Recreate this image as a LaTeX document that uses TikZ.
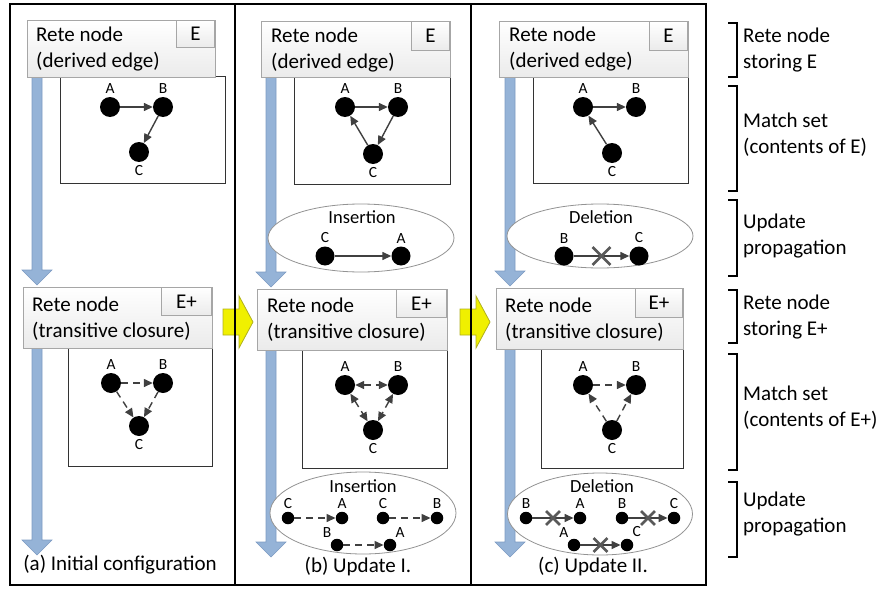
\documentclass[tikz,border=0pt]{standalone}
\usepackage{fontspec}
\setmainfont{Carlito}
\usetikzlibrary{arrows.meta,shapes.geometric,shapes.misc}
\definecolor{edgegray}{RGB}{64,64,64}
\definecolor{xgray}{RGB}{89,89,89}
\definecolor{bluefill}{RGB}{149,179,215}
\definecolor{blueline}{RGB}{125,155,195}
\definecolor{yfill}{RGB}{240,240,0}
\definecolor{yline}{RGB}{175,175,30}
\definecolor{retedraw}{RGB}{166,166,166}
\newcommand\bluearr[4]{\filldraw[bluearrow] (#1-5,#2) -- (#1+5,#2) -- (#1+5,#3) -- (#1+15,#3) -- (#1,#4) -- (#1-15,#3) -- (#1-5,#3) -- cycle;}
\newcommand\sidebrk[2]{\draw[brk] (728,#1) -- (737,#1) -- (737,#2) -- (728,#2);}
\begin{document}
\begin{tikzpicture}[x=1pt,y=-1pt,
 panel/.style={draw=black,line width=2.2pt},
 retebox/.style={draw=retedraw,line width=0.9pt,top color=white,bottom color=black!8,inner sep=0pt},
 retetext/.style={font=\fontsize{21}{26}\selectfont,align=left,inner sep=0pt,anchor=west},
 tagbox/.style={retebox,anchor=north east,font=\fontsize{21}{26}\selectfont},
 gbox/.style={draw=black!80,fill=white,line width=0.9pt,inner sep=0pt,anchor=north west},
 vtx/.style={circle,fill=black,minimum size=20pt,inner sep=0pt},
 svtx/.style={circle,fill=black,minimum size=12.5pt,inner sep=0pt},
 lbl/.style={font=\fontsize{15.5}{17}\selectfont,inner sep=0pt},
 edge/.style={draw=edgegray,line width=1.4pt,-{Triangle[length=9pt,width=8pt]}},
 dedge/.style={edge,dash pattern=on 7pt off 5pt},
 bedge/.style={dedge,{Triangle[length=9pt,width=8pt]}-{Triangle[length=9pt,width=8pt]}},
 xmark/.style={cross out,draw=xgray,line width=2.8pt,minimum size=#1,inner sep=0pt},
 updell/.style={ellipse,draw=gray!85,fill=white,line width=0.8pt,inner sep=0pt},
 updtext/.style={font=\fontsize{18.5}{22}\selectfont,inner sep=0pt},
 captext/.style={font=\fontsize{21}{26}\selectfont,inner sep=0pt},
 sidetext/.style={font=\fontsize{21}{26}\selectfont,align=left,inner sep=0pt,anchor=west},
 bluearrow/.style={fill=bluefill,draw=blueline,line width=0.6pt},
 yarrow/.style={fill=yfill,draw=yline,line width=0.8pt},
 brk/.style={draw=black,line width=2.4pt},
 label distance=3pt
]
\useasboundingbox (0,0) rectangle (881,589);

% yellow transition arrows
\filldraw[yarrow] (223,309) -- (239,309) -- (239,296) -- (253,322) -- (239,348) -- (239,335) -- (223,335) -- cycle;
\filldraw[yarrow] (460,309) -- (476,309) -- (476,296) -- (490,322) -- (476,348) -- (476,335) -- (460,335) -- cycle;

% panels
\draw[panel] (10,4) rectangle (235,585);
\draw[panel] (235,4) rectangle (471,585);
\draw[panel] (471,4) rectangle (706,585);

% blue flow arrows
\bluearr{37}{77}{270}{285}
\bluearr{37}{348}{540}{555}
\bluearr{271}{77}{272}{287}
\bluearr{271}{350}{542}{557}
\bluearr{510}{77}{271}{286}
\bluearr{510}{349}{542}{557}

% ---------- panel (a) ----------
\node[gbox,minimum width=165pt,minimum height=107pt] (ga1) at (60,76) {};
\node[retebox,anchor=north west,minimum width=188pt,minimum height=57pt] (ra1) at (27,20) {};
\node[tagbox,minimum width=38pt,minimum height=27pt] (ea1) at (215,20) {E};
\node[retetext] (ta1) at (36,49) {Rete node\\(derived edge)};
\node[vtx,label={[lbl]above:A}] (a1A) at (110,107) {};
\node[vtx,label={[lbl]above:B}] (a1B) at (163,107) {};
\node[vtx,label={[lbl]below:C}] (a1C) at (139,152) {};
\draw[edge] (a1A) -- (a1B);
\draw[edge] (a1B) -- (a1C);

\node[gbox,minimum width=144pt,minimum height=118pt] (ga2) at (68,348) {};
\node[retebox,anchor=north west,minimum width=189pt,minimum height=61pt] (ra2) at (23,287) {};
\node[tagbox,minimum width=50pt,minimum height=28pt] (ea2) at (212,287) {E+};
\node[retetext] (ta2) at (32,319) {Rete node\\(transitive closure)};
\node[vtx,label={[lbl]above:A}] (a2A) at (111,383) {};
\node[vtx,label={[lbl]above:B}] (a2B) at (163,383) {};
\node[vtx,label={[lbl]below:C}] (a2C) at (139,426) {};
\draw[dedge] (a2A) -- (a2B);
\draw[dedge] (a2A) -- (a2C);
\draw[dedge] (a2B) -- (a2C);
\node[captext] (capa) at (120,565) {(a) Initial configuration};

% ---------- panel (b) ----------
\node[gbox,minimum width=156pt,minimum height=107pt] (gb1) at (294,77) {};
\node[retebox,anchor=north west,minimum width=189pt,minimum height=56pt] (rb1) at (261,21) {};
\node[tagbox,minimum width=38pt,minimum height=29pt] (eb1) at (450,21) {E};
\node[retetext] (tb1) at (271,50) {Rete node\\(derived edge)};
\node[vtx,label={[lbl]above:A}] (b1A) at (345,107) {};
\node[vtx,label={[lbl]above:B}] (b1B) at (398,107) {};
\node[vtx,label={[lbl]below:C}] (b1C) at (373,154) {};
\draw[edge] (b1A) -- (b1B);
\draw[edge] (b1B) -- (b1C);
\draw[edge] (b1C) -- (b1A);

\node[updell,minimum width=186pt,minimum height=68pt] (ub1) at (361,238) {};
\node[updtext] (ut1) at (362,217.5) {Insertion};
\node[vtx,minimum size=19pt,label={[lbl]above:C}] (u1C) at (325,256) {};
\node[vtx,minimum size=19pt,label={[lbl]above:A}] (u1A) at (401,256) {};
\draw[edge] (u1C) -- (u1A);

\node[gbox,minimum width=145pt,minimum height=118pt] (gb2) at (302,350) {};
\node[retebox,anchor=north west,minimum width=190pt,minimum height=61pt] (rb2) at (257,289) {};
\node[tagbox,minimum width=50pt,minimum height=28pt] (eb2) at (447,289) {E+};
\node[retetext] (tb2) at (267,320) {Rete node\\(transitive closure)};
\node[vtx,label={[lbl]above:A}] (b2A) at (345,385) {};
\node[vtx,label={[lbl]above:B}] (b2B) at (398,385) {};
\node[vtx,label={[lbl]below:C}] (b2C) at (373,430) {};
\draw[bedge] (b2A) -- (b2B);
\draw[bedge] (b2A) -- (b2C);
\draw[bedge] (b2B) -- (b2C);

\node[updell,minimum width=186pt,minimum height=82pt] (ub2) at (363,513) {};
\node[updtext] (ut2) at (363,486.5) {Insertion};
\node[svtx,label={[lbl]above:C}] (u2C1) at (288,518) {};
\node[svtx,label={[lbl]above:A}] (u2A1) at (342,518) {};
\node[svtx,label={[lbl]above:C}] (u2C2) at (383,518) {};
\node[svtx,label={[lbl]above:B}] (u2B2) at (437,518) {};
\node[svtx,label={[lbl]125:B}] (u2B3) at (337,545) {};
\node[svtx,label={[lbl]55:A}] (u2A3) at (390,545) {};
\draw[dedge] (u2C1) -- (u2A1);
\draw[dedge] (u2C2) -- (u2B2);
\draw[dedge] (u2B3) -- (u2A3);
\node[captext] (capb) at (358,567) {(b) Update I.};

% ---------- panel (c) ----------
\node[gbox,minimum width=155pt,minimum height=106pt] (gc1) at (533,77) {};
\node[retebox,anchor=north west,minimum width=189pt,minimum height=56pt] (rc1) at (499,21) {};
\node[tagbox,minimum width=38pt,minimum height=29pt] (ec1) at (688,21) {E};
\node[retetext] (tc1) at (509,49) {Rete node\\(derived edge)};
\node[vtx,label={[lbl]above:A}] (c1A) at (583,107) {};
\node[vtx,label={[lbl]above:B}] (c1B) at (636,107) {};
\node[vtx,label={[lbl]below:C}] (c1C) at (612,153) {};
\draw[edge] (c1A) -- (c1B);
\draw[edge] (c1C) -- (c1A);

\node[updell,minimum width=186pt,minimum height=64pt] (uc1) at (600,236) {};
\node[updtext] (vt1) at (601,217.5) {Deletion};
\node[vtx,minimum size=19pt,label={[lbl]above:B}] (v1B) at (564,256) {};
\node[vtx,minimum size=19pt,label={[lbl]above:C}] (v1C) at (639,256) {};
\draw[edge] (v1B) -- node[xmark=15pt] (x1) {} (v1C);

\node[gbox,minimum width=142pt,minimum height=119pt] (gc2) at (541,349) {};
\node[retebox,anchor=north west,minimum width=187pt,minimum height=61pt] (rc2) at (496,288) {};
\node[tagbox,minimum width=47pt,minimum height=29pt] (ec2) at (683,288) {E+};
\node[retetext] (tc2) at (505,320) {Rete node\\(transitive closure)};
\node[vtx,label={[lbl]above:A}] (c2A) at (583,385) {};
\node[vtx,label={[lbl]above:B}] (c2B) at (636,385) {};
\node[vtx,label={[lbl]below:C}] (c2C) at (612,430) {};
\draw[dedge] (c2A) -- (c2B);
\draw[dedge] (c2C) -- (c2A);
\draw[dedge] (c2C) -- (c2B);

\node[updell,minimum width=185pt,minimum height=82pt] (uc2) at (600,514) {};
\node[updtext] (vt2) at (602,486.5) {Deletion};
\node[svtx,label={[lbl]above:B}] (v2B1) at (526,518) {};
\node[svtx,label={[lbl]above:A}] (v2A1) at (580,518) {};
\node[svtx,label={[lbl]above:B}] (v2B2) at (622,518) {};
\node[svtx,label={[lbl]above:C}] (v2C2) at (674,518) {};
\node[svtx,label={[lbl]125:A}] (v2A3) at (574,545) {};
\node[svtx,label={[lbl]55:C}] (v2C3) at (627,545) {};
\draw[edge] (v2B1) -- node[xmark=11pt] (x2) {} (v2A1);
\draw[edge] (v2B2) -- node[xmark=11pt] (x3) {} (v2C2);
\draw[edge] (v2A3) -- node[xmark=11pt] (x4) {} (v2C3);
\node[captext] (capc) at (593,567) {(c) Update II.};

% ---------- right-hand legend ----------
\sidebrk{23}{77}
\node[sidetext] (s1) at (743,50) {Rete node\\storing E};
\sidebrk{86}{191}
\node[sidetext] (s2) at (743,134.5) {Match set\\(contents of E)};
\sidebrk{200}{276}
\node[sidetext] (s3) at (743,236.5) {Update\\propagation};
\sidebrk{290}{343}
\node[sidetext] (s4) at (743,317.5) {Rete node\\storing E+};
\sidebrk{354}{470}
\node[sidetext] (s5) at (743,407.5) {Match set\\(contents of E+)};
\sidebrk{482}{557}
\node[sidetext] (s6) at (743,514.5) {Update\\propagation};
\end{tikzpicture}
\end{document}
